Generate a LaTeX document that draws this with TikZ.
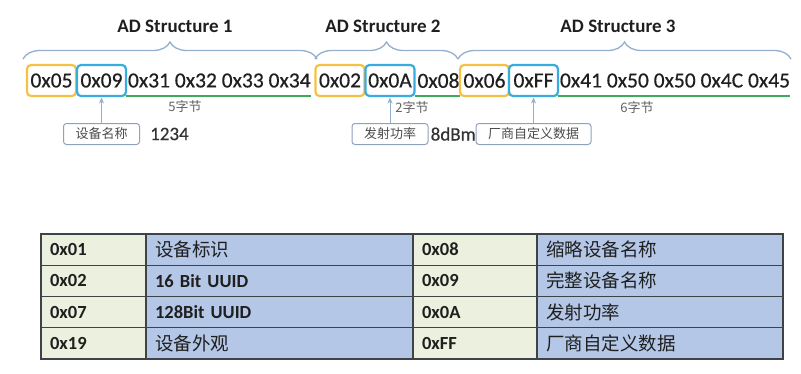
\documentclass[tikz,border=0pt]{standalone}
\usepackage{fontspec}
\setmainfont{Carlito}
\newfontfamily\heavy[FakeBold=0.5]{Carlito}
\newfontfamily\cjk{Noto Sans CJK SC}
\usetikzlibrary{positioning,decorations.pathreplacing,arrows.meta}

\definecolor{lenyellow}{HTML}{F4C145}
\definecolor{typeblue}{HTML}{38ABDF}
\definecolor{datagreen}{HTML}{3DAA5C}
\definecolor{bracegray}{HTML}{94AECD}
\definecolor{tagedge}{HTML}{8FA2BC}
\definecolor{codegreen}{HTML}{EBF1DE}
\definecolor{nameblue}{HTML}{B4C7E7}
\definecolor{gridgray}{HTML}{3F4348}

\tikzset{
	byte/.style={font=\heavy\fontsize{21.5}{21.5}\selectfont, text=black!88, inner sep=0pt, outer sep=0pt},
	lenbox/.style={byte, draw=lenyellow, line width=2.2pt, rounded corners=4pt, minimum width=49pt, minimum height=31pt},
	typebox/.style={lenbox, draw=typeblue},
	datatext/.style={byte},
	underline/.style={draw=datagreen, line width=2pt},
	sizelabel/.style={font=\cjk\fontsize{13}{13}\selectfont, text=black!62},
	tag/.style={draw=tagedge, line width=1pt, rounded corners=3pt, fill=white, font=\cjk\fontsize{13}{13}\selectfont, text=black!70, minimum height=21pt, inner xsep=12pt, inner ysep=0pt},
	value/.style={font=\heavy\fontsize{19}{19}\selectfont, text=black!80, inner sep=0pt},
	pointer/.style={draw=bracegray, line width=1pt, -{Stealth[length=6pt,width=5pt]}, shorten >=1.5pt},
	brace/.style={draw=bracegray, line width=1.3pt, decorate, decoration={brace, amplitude=17pt}},
	title/.style={font=\bfseries\fontsize{19}{19}\selectfont, text=black!88},
	cell/.style={draw=gridgray, line width=1.2pt, outer sep=0pt, minimum height=31.25pt, inner xsep=9pt, inner ysep=0pt, align=left, text=black!88, font=\fontsize{18.5}{18.5}\selectfont},
	codecell/.style={cell, fill=codegreen, font=\bfseries\fontsize{18.5}{18.5}\selectfont},
	namecell/.style={cell, fill=nameblue},
}

\begin{document}
\begin{tikzpicture}[x=1pt,y=-1pt]
	\useasboundingbox (0,0) rectangle (801,373);

	% byte stream, three AD structures
	\path (51.5,80.5) node [lenbox] (len1) {0x05};
	\node [typebox, right=1pt of len1] (type1) {0x09};
	\node [datatext, right=2pt of type1] (data1) {0x31 0x32 0x33 0x34};

	\path (340,80.5) node [lenbox] (len2) {0x02};
	\node [typebox, right=1pt of len2] (type2) {0x0A};
	\node [datatext, right=3pt of type2] (data2) {0x08};

	\path (484.5,80.5) node [lenbox] (len3) {0x06};
	\node [typebox, right=0pt of len3] (type3) {0xFF};
	\node [datatext, right=2pt of type3] (data3) {0x41 0x50 0x50 0x4C 0x45};

	% data length
	\draw [underline] (type1.south east) -- (type1.south east -| data1.east);
	\draw [underline] (type2.south east) -- (type2.south east -| data2.east);
	\draw [underline] (type3.south east) -- (type3.south east -| data3.east);
	\path (185,107) node [sizelabel] (size1) {5字节};
	\path (412,108) node [sizelabel] (size2) {2字节};
	\path (637,108) node [sizelabel] (size3) {6字节};

	% what the type byte means
	\node [tag, below=27pt of type1] (tag1) {设备名称};
	\node [tag, below=27pt of type2] (tag2) {发射功率};
	\node [tag, below=27pt of type3] (tag3) {厂商自定义数据};
	\node [value, right=10pt of tag1] (val1) {1234};
	\node [value, right=2pt of tag2] (val2) {8dBm};
	\draw [pointer] (tag1) -- (type1);
	\draw [pointer] (tag2) -- (type2);
	\draw [pointer] (tag3) -- (type3);

	% braces and titles
	\draw [brace] (23,59) -- (317,59);
	\draw [brace] (315,59) -- (458,59);
	\draw [brace] (458,59) -- (791,59);
	\path (175,26) node [title] (ad1) {AD Structure 1};
	\path (383,26) node [title] (ad2) {AD Structure 2};
	\path (618,26) node [title] (ad3) {AD Structure 3};

	% AD type table
	\foreach \r/\codeA/\nameA/\codeB/\nameB in {
		0/0x01/{\cjk 设备标识}/0x08/{\cjk 缩略设备名称},
		1/0x02/{\bfseries 16 Bit UUID}/0x09/{\cjk 完整设备名称},
		2/0x07/{\bfseries 128Bit UUID}/0x0A/{\cjk 发射功率},
		3/0x19/{\cjk 设备外观}/0xFF/{\cjk 厂商自定义数据}}
	{
		\path (41,{234+31.25*\r}) node [codecell, anchor=north west, text width=87pt] (ca\r) {\codeA};
		\node [namecell, right=0pt of ca\r, text width=249pt] (na\r) {\nameA};
		\node [codecell, right=0pt of na\r, text width=106pt] (cb\r) {\codeB};
		\node [namecell, right=0pt of cb\r, text width=228pt] (nb\r) {\nameB};
	}
\end{tikzpicture}
\end{document}
